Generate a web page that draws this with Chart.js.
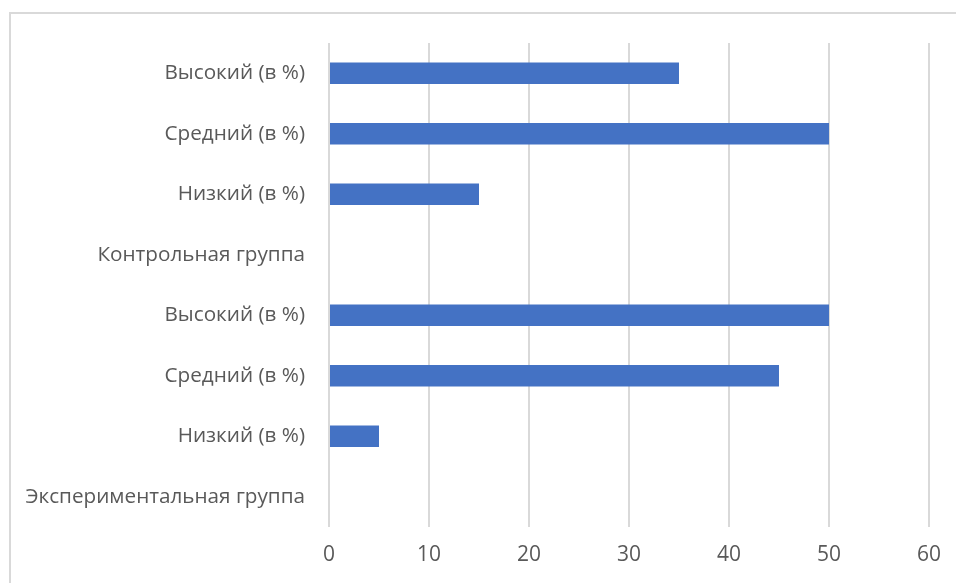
<!DOCTYPE html>
<html>
<head>
<meta charset="utf-8">
<script src="https://cdn.jsdelivr.net/npm/chart.js@4"></script>
<style>
  html, body { margin: 0; padding: 0; background: #fff; overflow: hidden; }
  #frame {
    position: absolute; left: 9px; top: 12px; width: 1000px; height: 1000px;
    border-top: 2px solid #d9d9d9; border-left: 2px solid #d9d9d9;
  }
  #wrap { position: absolute; left: 0; top: 0; width: 956px; height: 583px; }
</style>
</head>
<body>
<div id="frame"></div>
<div id="wrap"><canvas id="levelsChart"></canvas></div>
<script>
const CATEGORIES = [
  "Высокий (в %)",
  "Средний (в %)",
  "Низкий (в %)",
  "Контрольная группа",
  "Высокий (в %)",
  "Средний (в %)",
  "Низкий (в %)",
  "Экспериментальная группа",
];
// group header rows have no bar
const VALUES = [35, 50, 15, null, 50, 45, 5, null];
const X_TICKS = [0, 10, 20, 30, 40, 50, 60];

const BAR_COLOR = "#4472c4";
const GRID_COLOR = "#d9d9d9";
const TEXT_COLOR = "#595959";
const FONT = "'Open Sans', sans-serif";

const ctx = document.getElementById("levelsChart");

new Chart(ctx, {
  type: "bar",
  data: {
    labels: CATEGORIES,
    datasets: [
      {
        data: VALUES,
        backgroundColor: BAR_COLOR,
        borderWidth: 0,
        categoryPercentage: 1,
        barPercentage: 0.355,
      },
    ],
  },
  options: {
    indexAxis: "y",
    responsive: true,
    maintainAspectRatio: false,
    animation: false,
    layout: { padding: { left: 0, top: 43, right: 27, bottom: 0 } },
    plugins: {
      legend: { display: false },
      tooltip: { enabled: false },
    },
    scales: {
      x: {
        min: 0,
        max: 60,
        afterBuildTicks: (axis) => {
          axis.ticks = X_TICKS.map((v) => ({ value: v }));
        },
        afterFit: (axis) => {
          axis.height = 56;
        },
        grid: { color: GRID_COLOR, lineWidth: 2, drawTicks: false },
        border: { display: false },
        ticks: {
          color: TEXT_COLOR,
          font: { family: FONT, size: 21 },
          padding: 15,
        },
      },
      y: {
        afterFit: (axis) => {
          axis.width = 329;
        },
        grid: { display: false, drawTicks: false },
        border: { display: false },
        ticks: {
          color: TEXT_COLOR,
          font: { family: FONT, size: 20.7 },
          padding: 24,
          autoSkip: false,
        },
      },
    },
  },
});
</script>
</body>
</html>
